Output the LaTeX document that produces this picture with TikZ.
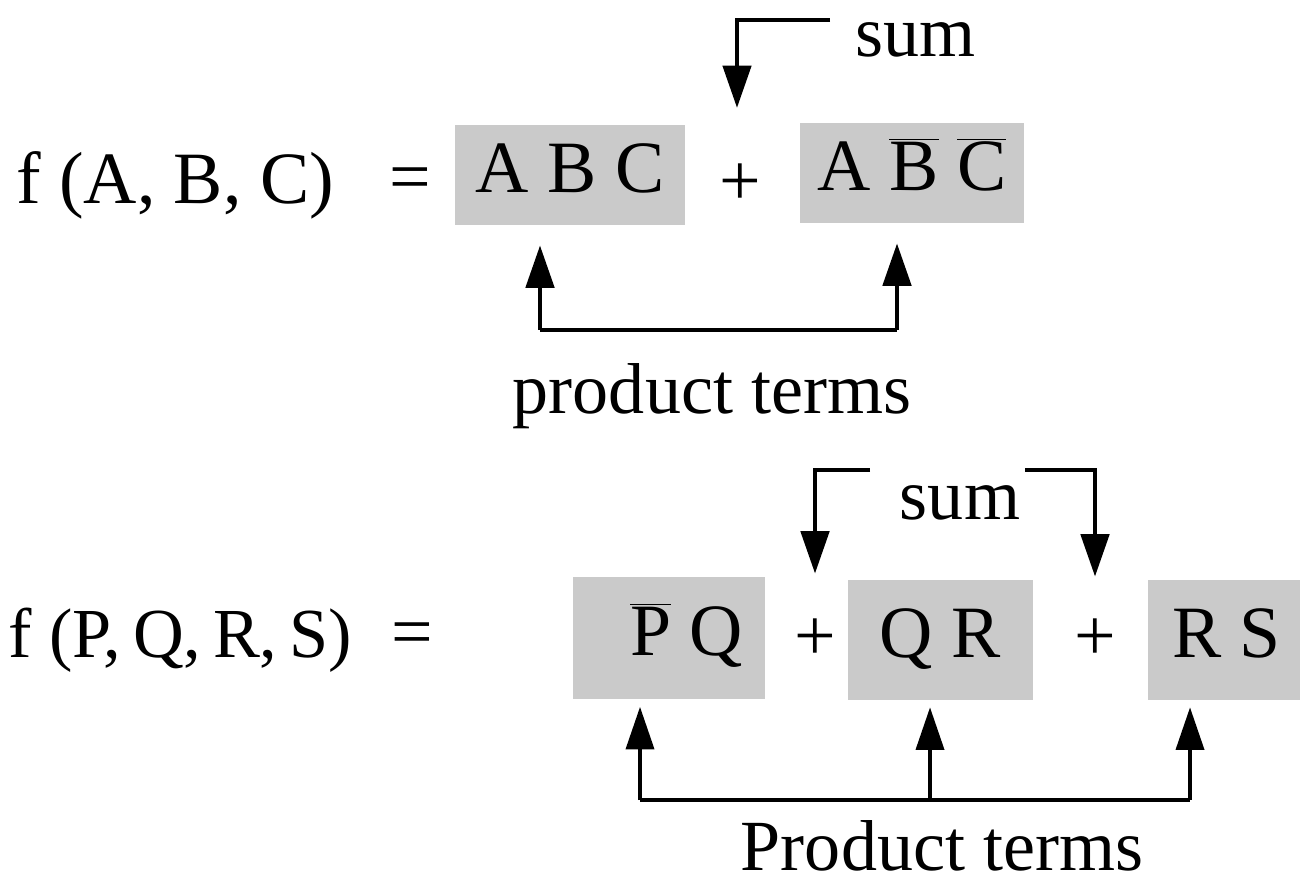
\documentclass[tikz,border=0pt]{standalone}
\usepackage{fontspec}
\setmainfont{Liberation Serif}
\usetikzlibrary{arrows.meta,positioning}
\definecolor{termgray}{RGB}{202,202,202}
\newcommand{\ovl}[1]{$\overline{\mbox{#1}}$}

\begin{document}
\begin{tikzpicture}[x=0.02cm, y=-0.02cm,
  >={Triangle[length=0.85cm, width=0.56cm]},
  eq/.style={font=\fontsize{42}{48}\selectfont, inner sep=0pt},
  lbl/.style={font=\fontsize{41}{46}\selectfont, inner sep=0pt},
  term/.style={eq, fill=termgray, minimum height=2cm,
               text height=28pt, text depth=8pt},
  wire/.style={line width=2.8pt},
  stem/.style={line width=2.1pt},
  ]
\useasboundingbox (0,0) rectangle (1300,884);

% ======================================================================
% TOP: f(A,B,C)
% ======================================================================
\def\rowa{185}

\node[eq] (lhsA) at (175,\rowa) {f (A, B, C)};
\node[eq] (eqA) at (410,\rowa) {=};
\node[term, minimum width=4.6cm] (abc) at (570,175) {A B C};
\node[eq] (plusA) at (740,\rowa) {+};
\node[term, minimum width=4.5cm] (abbcb) at (912,173) {A \ovl{B} \ovl{C}};

% sum arrow
\node[lbl, anchor=west] (sumA) at (855,40) {sum};
\coordinate (sumAstart) at (830,20);
\coordinate (sumAtip) at (737,108);
\draw[wire, ->] (sumAstart) -| (sumAtip);

% product terms bracket
\coordinate (pa1) at (540,330);
\coordinate (pa2) at (897,330);
\draw[wire, ->] (pa1) -- ([yshift=-0.4cm]pa1 |- abc.south);
\draw[wire, ->] (pa2) -- ([yshift=-0.4cm]pa2 |- abbcb.south);
\draw[wire] (pa1) -- (pa2);
\node[lbl] (prodA) at (712,396) {product terms};

% ======================================================================
% BOTTOM: f(P,Q,R,S)
% ======================================================================
\def\rowb{640}

\node[eq, font=\fontsize{40}{46}\selectfont]
  (lhsB) at (180,\rowb) {f (P,\,Q,\,R,\,S)};
\node[eq] (eqB) at (412,\rowb) {=};
\node[term, minimum width=3.86cm, minimum height=2.46cm]
  (pq) at (669,638) {\hspace*{0.7cm}\ovl{P} Q};
\node[eq] (plusB1) at (815,\rowb) {+};
\node[term, minimum width=3.7cm, minimum height=2.4cm]
  (qr) at (940,640) {Q R};
\node[eq] (plusB2) at (1095,\rowb) {+};
\node[term, minimum width=3.44cm, minimum height=2.4cm]
  (rs) at (1234,640) {\hspace*{-0.3cm}R S};

% sum arrows
\node[lbl] (sumB) at (960,503) {sum};
\coordinate (sumBl) at (870,470);
\coordinate (sumBr) at (1025,470);
\draw[wire, ->] (sumBl) -| ([yshift=0.12cm]plusB1 |- qr.north);
\draw[wire, ->] (sumBr) -| ([yshift=0.06cm]plusB2 |- rs.north);

% product terms bracket
\coordinate (pb1) at (640,800);
\coordinate (pb2) at (930,800);
\coordinate (pb3) at (1190,800);
\foreach \c/\t in {pb1/pq, pb2/qr, pb3/rs} {
  \draw[stem, ->] (\c) -- ([yshift=-0.14cm]\c |- \t.south);
}
\draw[wire] (pb1) -- (pb3);
\node[lbl] (prodB) at (942,846) {Product terms};

\end{tikzpicture}
\end{document}
